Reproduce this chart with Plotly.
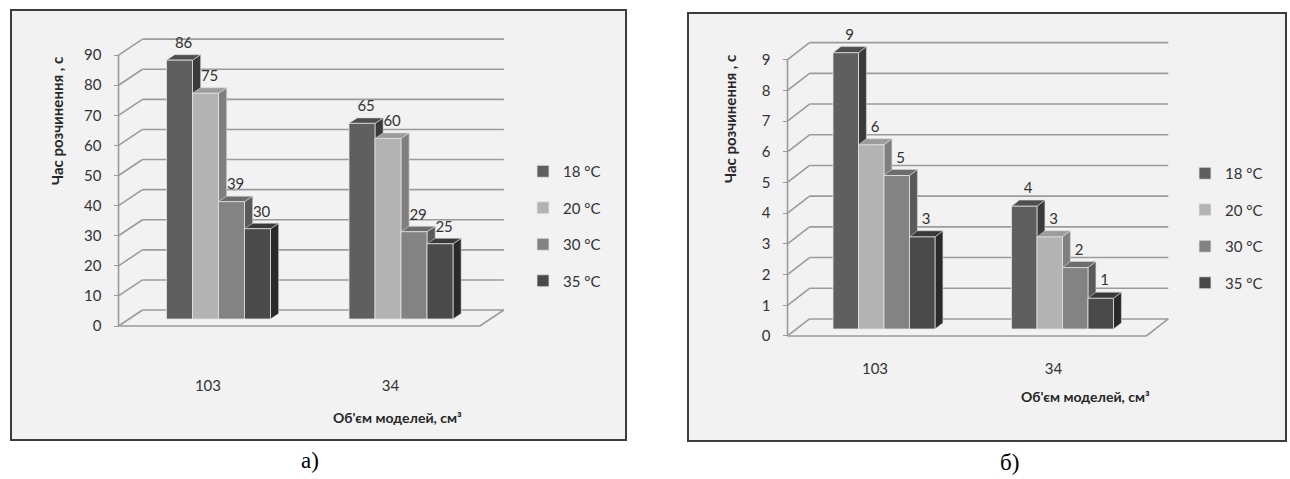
import plotly.graph_objects as go

W, H = 1290, 479

# ---------------------------------------------------------------- data
categories = ["103", "34"]
series = ["18 °C", "20 °C", "30 °C", "35 °C"]

# panel а: dissolution time, s
a_18 = [86, 65]
a_20 = [75, 60]
a_30 = [39, 29]
a_35 = [30, 25]
a_ticks = [0, 10, 20, 30, 40, 50, 60, 70, 80, 90]

# panel б: dissolution time, s
b_18 = [9, 4]
b_20 = [6, 3]
b_30 = [5, 2]
b_35 = [3, 1]
b_ticks = [0, 1, 2, 3, 4, 5, 6, 7, 8, 9]

y_title = "Час розчинення , с"
x_title = "Об'єм моделей, см³"

# ---------------------------------------------------------------- style
FONT = "Lato, 'Open Sans', sans-serif"
FS = 15
TXT = "#333333"
GRID = "#9b9b9b"
front_col = ["#5f5f5f", "#b3b3b3", "#838383", "#4a4a4a"]
side_col = ["#3a3a3a", "#7f7f7f", "#595959", "#2a2a2a"]
top_col = ["#4e4e4e", "#9c9c9c", "#6d6d6d", "#393939"]

# pixel geometry of each panel (layout only)
panels = [
    dict(vals=[a_18, a_20, a_30, a_35], ticks=a_ticks,
         frame=(11, 10, 626, 440), box=(95, 18, 540, 352),
         cx=218.5, step=182.5, y0=319.0, sy=3.01,
         depth=(24.0, 16.0), f=0.44, bd=0.34, bar_px=26.0,
         xext=(-0.49, 1.49), cat_py=375, lift_px=3.0,
         legend=(523, 155), ytitle=(57, 121), xtitle=(397, 417),
         tag="а)", tag_xy=(310, 460)),
    dict(vals=[b_18, b_20, b_30, b_35], ticks=b_ticks,
         frame=(688, 13, 1286, 441), box=(770, 18, 1200, 355),
         cx=884.0, step=178.5, y0=329.0, sy=30.7,
         depth=(22.0, 17.0), f=0.41, bd=0.36, bar_px=25.5,
         xext=(-0.49, 1.52), cat_py=358, lift_px=3.0,
         legend=(1185, 157), ytitle=(730, 119), xtitle=(1085, 396),
         tag="б)", tag_xy=(1010, 462)),
]


def px(x):
    return x / W


def py(y):
    return 1 - y / H


fig = go.Figure()
shapes = []
annotations = []
layout_axes = {}

for p_i, P in enumerate(panels):
    sfx = "" if p_i == 0 else str(p_i + 1)
    xa, ya = "x" + sfx, "y" + sfx
    leg = "legend" if p_i == 0 else "legend" + str(p_i + 1)

    step, sy = P["step"], P["sy"]
    Dx, Dy = P["depth"][0] / step, P["depth"][1] / sy
    f, bd = P["f"], P["bd"]
    bw = P["bar_px"] / step
    xl0, xr0 = P["xext"]
    bl, bt, br, bb = P["box"]
    xrange = [(bl - P["cx"]) / step, (br - P["cx"]) / step]
    yrange = [(P["y0"] - bb) / sy, (P["y0"] - bt) / sy]
    vmax = max(P["ticks"])

    # chart frame
    fl, ft, fr, fb = P["frame"]
    shapes.append(dict(type="rect", xref="paper", yref="paper",
                       x0=px(fl), x1=px(fr), y0=py(fb), y1=py(ft),
                       fillcolor="#f2f2f2", line=dict(color="#3c3c3c", width=2),
                       layer="below"))

    # walls: back gridlines, depth diagonals, front axis line, floor
    fx = xl0 - f * Dx
    bx0, bx1 = xl0 + (1 - f) * Dx, xr0 + (1 - f) * Dx
    line = dict(color=GRID, width=1.6)
    for t in P["ticks"]:
        shapes.append(dict(type="line", xref=xa, yref=ya, layer="below",
                           x0=bx0, x1=bx1, y0=t + (1 - f) * Dy, y1=t + (1 - f) * Dy, line=line))
        shapes.append(dict(type="line", xref=xa, yref=ya, layer="below",
                           x0=fx, x1=bx0, y0=t - f * Dy, y1=t + (1 - f) * Dy, line=line))
    shapes.append(dict(type="line", xref=xa, yref=ya, layer="below",
                       x0=fx, x1=fx, y0=-f * Dy, y1=vmax - f * Dy, line=line))
    fxr = xr0 - f * Dx
    shapes.append(dict(type="path", xref=xa, yref=ya, layer="below",
                       path=f"M{fx},{-f*Dy} L{fxr},{-f*Dy} L{bx1},{(1-f)*Dy}",
                       line=line))

    # bars: front faces as bar traces, side/top faces as shapes
    ddx, ddy = bd * Dx, bd * Dy
    lift = P["lift_px"] / sy
    for k, name in enumerate(series):
        vals = P["vals"][k]
        xs = [i + (k - 1.5) * bw for i in range(len(categories))]
        fig.add_trace(go.Bar(
            x=xs, y=vals, width=bw, name=name, xaxis=xa, yaxis=ya,
            marker=dict(color=front_col[k], line=dict(color="#e4e4e4", width=0.8)),
            legend=leg, legendgroup=f"{p_i}-{k}", hoverinfo="skip"))
        for xc, v in zip(xs, vals):
            xl, xr = xc - bw / 2, xc + bw / 2
            shapes.append(dict(type="path", xref=xa, yref=ya, layer="between",
                               path=f"M{xr},0 L{xr+ddx},{ddy} L{xr+ddx},{v+ddy} L{xr},{v} Z",
                               fillcolor=side_col[k], line=dict(color="#d8d8d8", width=0.6)))
            shapes.append(dict(type="path", xref=xa, yref=ya, layer="between",
                               path=f"M{xl},{v} L{xl+ddx},{v+ddy} L{xr+ddx},{v+ddy} L{xr},{v} Z",
                               fillcolor=top_col[k], line=dict(color="#d8d8d8", width=0.6)))
        fig.add_trace(go.Scatter(
            x=[x + ddx / 2 for x in xs], y=[v + ddy + lift for v in vals],
            text=[str(v) for v in vals], mode="text", textposition="top center",
            textfont=dict(family=FONT, size=FS, color=TXT), cliponaxis=False,
            xaxis=xa, yaxis=ya, showlegend=False, hoverinfo="skip"))

    # axes: tick labels sit on the front plane
    front_x_px = P["cx"] + step * fx
    layout_axes["xaxis" + sfx] = dict(
        domain=[px(bl), px(br)], range=xrange, anchor="free", position=py(P["cat_py"]),
        tickvals=[i - f * Dx for i in range(len(categories))], ticktext=categories,
        ticks="", showline=False, showgrid=False, zeroline=False, fixedrange=True,
        tickfont=dict(family=FONT, size=FS, color=TXT))
    layout_axes["yaxis" + sfx] = dict(
        domain=[py(bb), py(bt)], range=yrange, anchor="free", position=px(front_x_px),
        tickvals=[t - f * Dy for t in P["ticks"]], ticktext=[str(t) for t in P["ticks"]],
        ticks="outside", ticklen=5, tickcolor=GRID, tickwidth=1.2, ticklabelstandoff=9,
        showline=False, showgrid=False, zeroline=False, fixedrange=True,
        tickfont=dict(family=FONT, size=FS, color=TXT))

    layout_axes[leg] = dict(
        x=px(P["legend"][0]), y=py(P["legend"][1]), xanchor="left", yanchor="top",
        bgcolor="rgba(0,0,0,0)", tracegroupgap=14, traceorder="grouped",
        font=dict(family=FONT, size=FS, color=TXT))

    annotations.append(dict(text=f"<b>{y_title}</b>", x=px(P["ytitle"][0]), y=py(P["ytitle"][1]),
                            xref="paper", yref="paper", xanchor="center", yanchor="middle",
                            textangle=-90, showarrow=False,
                            font=dict(family=FONT, size=15, color="#262626")))
    annotations.append(dict(text=f"<b>{x_title}</b>", x=px(P["xtitle"][0]), y=py(P["xtitle"][1]),
                            xref="paper", yref="paper", xanchor="center", yanchor="middle",
                            showarrow=False,
                            font=dict(family=FONT, size=14, color="#262626")))
    annotations.append(dict(text=P["tag"], x=px(P["tag_xy"][0]), y=py(P["tag_xy"][1]),
                            xref="paper", yref="paper", xanchor="center", yanchor="middle",
                            showarrow=False,
                            font=dict(family="'Liberation Serif', 'DejaVu Serif', serif",
                                      size=23, color="#000000")))

fig.update_layout(
    width=W, height=H, autosize=False,
    margin=dict(l=0, r=0, t=0, b=0),
    paper_bgcolor="#ffffff", plot_bgcolor="rgba(0,0,0,0)",
    barmode="overlay", showlegend=True,
    shapes=shapes, annotations=annotations,
    **layout_axes,
)

fig.write_html("out.html")
